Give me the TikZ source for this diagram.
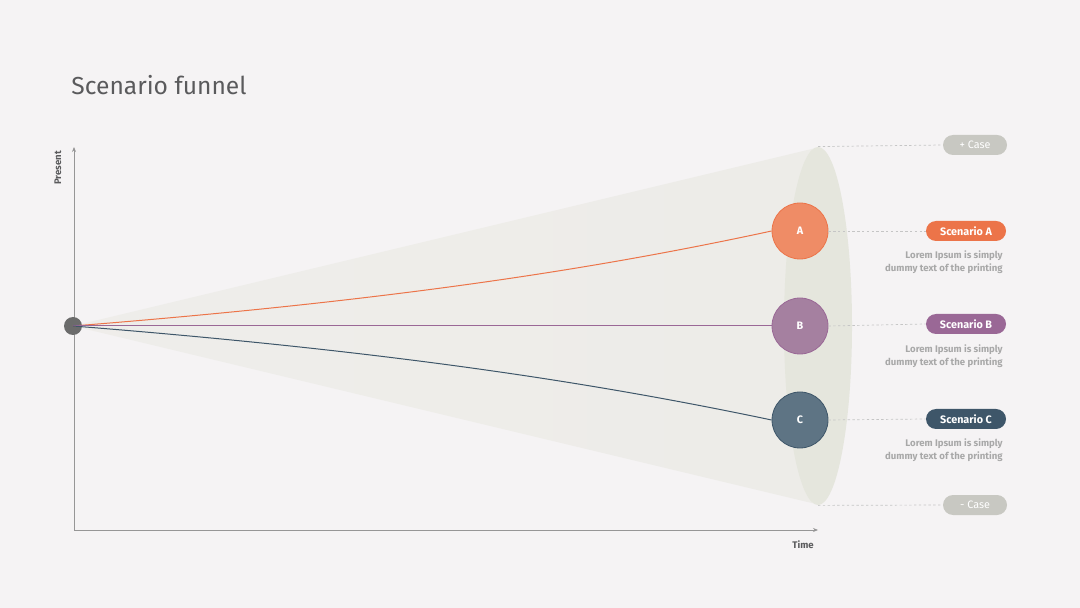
\documentclass[tikz,border=0pt]{standalone}
\usepackage{fontspec}
\setmainfont{Fira Sans}
\usetikzlibrary{arrows.meta,shapes.geometric}
\definecolor{bg}{RGB}{245,243,244}
\definecolor{axisc}{RGB}{150,150,150}
\definecolor{funnelc}{RGB}{237,236,232}
\definecolor{ellc}{RGB}{229,230,221}
\definecolor{orgC}{RGB}{239,140,102}
\definecolor{orgL}{RGB}{236,116,73}
\definecolor{purC}{RGB}{165,128,160}
\definecolor{purL}{RGB}{154,104,150}
\definecolor{bluC}{RGB}{94,116,132}
\definecolor{bluL}{RGB}{62,86,105}
\definecolor{caseC}{RGB}{200,200,194}
\definecolor{txtgrey}{RGB}{168,168,168}
\definecolor{titlec}{RGB}{90,90,92}
\definecolor{dotc}{RGB}{107,107,107}
\tikzset{
  pill/.style={rounded corners=5pt, minimum width=40pt, minimum height=10pt, inner sep=0pt, text=white, font=\fontsize{5.4}{6}\selectfont\bfseries},
  casepill/.style={pill, fill=caseC, minimum width=32pt, font=\fontsize{5.4}{6}\selectfont},
  scen/.style={circle, minimum size=28pt, inner sep=0pt, text=white, font=\fontsize{5.4}{6}\selectfont\bfseries, line width=0.4pt},
  desc/.style={align=right, anchor=east, text=txtgrey, font=\fontsize{4.8}{6.5}\selectfont\bfseries, inner sep=0pt},
  dashline/.style={dash pattern=on 1.2pt off 1.2pt, draw=axisc!55, line width=0.35pt},
  axis/.style={draw=axisc, line width=0.4pt, -{Stealth[length=2.5pt,width=2pt]}}
}
\begin{document}
\begin{tikzpicture}[x=0.5pt,y=-0.5pt]
\fill[bg] (0,0) rectangle (1080,608);
\useasboundingbox (0,0) rectangle (1080,608);
% title
\node[anchor=base west, inner sep=0pt, text=titlec, font=\fontsize{12.3}{14}\selectfont] (title) at (71,95) {Scenario funnel};
% funnel
\coordinate (apex) at (73,326);
\coordinate (ftop) at (820,147);
\coordinate (fbot) at (820,505);
\shade[left color=funnelc!80!bg, right color=funnelc] (apex) -- (ftop) -- (fbot) -- cycle;
\node[ellipse, fill=ellc, minimum width=34pt, minimum height=179pt, inner sep=0pt] (ell) at (818,326) {};
% axes
\coordinate (o) at (74,530);
\coordinate (ytop) at (74,147);
\coordinate (xend) at (818,530);
\draw[axis] (o) -- (ytop);
\draw[axis] (o) -- (xend);
\node[rotate=90, text=titlec, font=\fontsize{4.8}{6}\selectfont\bfseries, inner sep=0pt] (present) at (58,168) {Present};
\node[text=titlec, font=\fontsize{4.8}{6}\selectfont\bfseries, inner sep=0pt] (time) at (803,545) {Time};
% circles
\node[scen, fill=orgC, draw=orgL] (A) at (800,231) {A};
\node[scen, fill=purC, draw=purL] (B) at (800,326) {B};
\node[scen, fill=bluC, draw=bluL] (C) at (800,420) {C};
% start dot
\node[circle, fill=dotc, minimum size=9pt, inner sep=0pt] (start) at (apex) {};
% lines
\draw[orgL, line width=0.5pt] (start.center) .. controls (400,300) and (600,268) .. (A.west);
\draw[purL, line width=0.5pt] (start.center) -- (B.west);
\draw[bluL, line width=0.5pt] (start.center) .. controls (400,352) and (600,384) .. (C.west);
% pills
\node[casepill] (pcase) at (975,145) {+ Case};
\node[casepill] (mcase) at (975,505) {- Case};
\node[pill, fill=orgL] (sA) at (966,231) {Scenario A};
\node[pill, fill=purL] (sB) at (966,324) {Scenario B};
\node[pill, fill=bluL] (sC) at (966,419) {Scenario C};
% dashed connectors
\draw[dashline] (ell.north) -- (pcase.west);
\draw[dashline] (ell.south) -- (mcase.west);
\draw[dashline] (A.east) -- (sA.west);
\draw[dashline] (B.east) -- (sB.west);
\draw[dashline] (C.east) -- (sC.west);
% descriptions
\node[desc] (dA) at (1003,262) {Lorem Ipsum is simply\\dummy text of the printing};
\node[desc] (dB) at (1003,356) {Lorem Ipsum is simply\\dummy text of the printing};
\node[desc] (dC) at (1003,450) {Lorem Ipsum is simply\\dummy text of the printing};
\end{tikzpicture}
\end{document}
